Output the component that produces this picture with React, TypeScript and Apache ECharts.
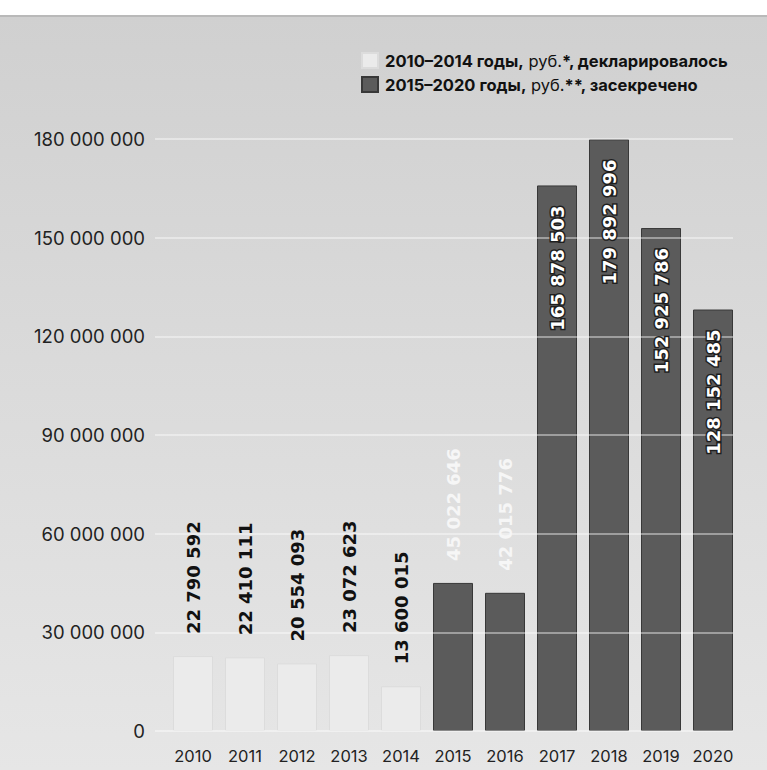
import React, { useEffect, useRef } from "react";
import * as echarts from "echarts";

const years = ["2010", "2011", "2012", "2013", "2014", "2015", "2016", "2017", "2018", "2019", "2020"];
const declaredValues = [22790592, 22410111, 20554093, 23072623, 13600015];
const secretValues = [45022646, 42015776, 165878503, 179892996, 152925786, 128152485];
const yTicks = [0, 30000000, 60000000, 90000000, 120000000, 150000000, 180000000];
const legendNames = ["2010–2014", "2015–2020"];

const fmt = (v: number) => String(v).replace(/\B(?=(\d{3})+(?!\d))/g, " ");

export default function App() {
  const ref = useRef<HTMLDivElement>(null);
  useEffect(() => {
    document.body.style.margin = "0";
    const chart = echarts.init(ref.current!, undefined, { renderer: "svg" });
    const nDecl = declaredValues.length;
    const allValues = [...declaredValues, ...secretValues];
    const declData = allValues.map((v, i) => (i < nDecl ? v : "-"));
    const secData = allValues.map((v, i) => (i >= nDecl ? v : "-"));
    const labelData = allValues.map((v, i) => {
      const bigInside = i >= nDecl + 2;
      const label = bigInside
        ? {
            show: true,
            position: "insideTop",
            rotate: 90,
            align: "right",
            verticalAlign: "middle",
            distance: 20,
            color: "#ffffff",
            textBorderColor: "#1e1e1e",
            textBorderWidth: 3,
          }
        : {
            show: true,
            position: "top",
            rotate: 90,
            align: "left",
            verticalAlign: "middle",
            distance: 22,
            color: i < nDecl ? "#111111" : "#f6f6f6",
          };
      return { value: v, label };
    });
    const yMax = yTicks[yTicks.length - 1];
    const yInterval = yTicks[1] - yTicks[0];
    chart.setOption({
      animation: false,
      backgroundColor: "#ffffff",
      graphic: [
        {
          type: "rect",
          z: -10,
          shape: { x: 0, y: 15, width: 767, height: 755 },
          style: {
            fill: new echarts.graphic.LinearGradient(0, 0, 0, 1, [
              { offset: 0, color: "#d0d0d0" },
              { offset: 1, color: "#e6e6e6" },
            ]),
          },
          silent: true,
        },
        {
          type: "rect",
          z: -9,
          shape: { x: 0, y: 15, width: 767, height: 2 },
          style: { fill: "#b9b9b9" },
          silent: true,
        },
      ],
      legend: {
        data: legendNames,
        orient: "vertical",
        left: 356,
        top: 47,
        itemWidth: 16,
        itemHeight: 15,
        itemGap: 7,
        icon: "rect",
        selectedMode: false,
        textStyle: {
          padding: [0, 0, 0, 2],
          fontFamily: "Inter",
          fontSize: 16.5,
          color: "#111111",
          rich: {
            b: { fontFamily: "Inter", fontSize: 16.5, fontWeight: 700, color: "#111111" },
            r: { fontFamily: "Inter", fontSize: 16.5, fontWeight: 400, color: "#111111" },
          },
        },
        formatter: (name: string) =>
          name === legendNames[0]
            ? "{b|2010–2014 годы,} {r|руб.}{b|*, декларировалось}"
            : "{b|2015–2020 годы,} {r|руб.}{b|**, засекречено}",
      },
      grid: [
        { left: 167, right: 28, top: 139, bottom: 39 },
        { left: 155, right: 34, top: 139, bottom: 39 },
      ],
      xAxis: [
        {
          type: "category",
          gridIndex: 0,
          data: years,
          axisLine: { show: false },
          axisTick: { show: false },
          axisLabel: { interval: 0, margin: 16, fontFamily: "Inter", fontSize: 16.5, color: "#222222" },
        },
        { type: "value", gridIndex: 1, show: false },
      ],
      yAxis: [
        {
          type: "value",
          gridIndex: 0,
          min: 0,
          max: yMax,
          interval: yInterval,
          show: false,
        },
        {
          type: "value",
          gridIndex: 1,
          min: 0,
          max: yMax,
          interval: yInterval,
          z: 1.5,
          axisLine: { show: false },
          axisTick: { show: false },
          axisLabel: {
            margin: 10,
            fontFamily: "Inter",
            fontSize: 18.5,
            color: "#222222",
            formatter: (v: number) => fmt(v),
          },
          splitLine: { lineStyle: { color: "rgba(255,255,255,0.55)", width: 1.5 } },
        },
      ],
      series: [
        {
          name: legendNames[0],
          type: "bar",
          xAxisIndex: 0,
          yAxisIndex: 0,
          z: 1,
          barWidth: 40,
          barGap: "-100%",
          data: declData,
          itemStyle: { color: "#ebebeb", borderColor: "#dcdcdc", borderWidth: 1 },
        },
        {
          name: legendNames[1],
          type: "bar",
          xAxisIndex: 0,
          yAxisIndex: 0,
          z: 1,
          barWidth: 40,
          barGap: "-100%",
          data: secData,
          itemStyle: { color: "#5b5b5b", borderColor: "#383838", borderWidth: 1 },
        },
        {
          name: "labels",
          type: "bar",
          xAxisIndex: 0,
          yAxisIndex: 0,
          z: 3,
          barWidth: 40,
          barGap: "-100%",
          silent: true,
          itemStyle: { color: "rgba(0,0,0,0)" },
          label: { fontFamily: "DejaVu Sans", fontWeight: 700, fontSize: 18, formatter: (p: any) => fmt(p.value) },
          data: labelData,
        },
      ],
    });
    return () => chart.dispose();
  }, []);
  return <div ref={ref} style={{ width: 767, height: 770 }} />;
}
